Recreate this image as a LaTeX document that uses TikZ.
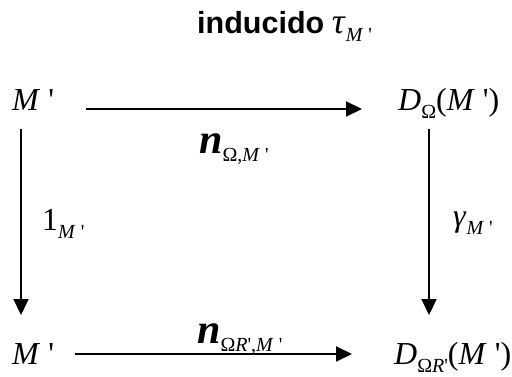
\documentclass[tikz,border=0pt]{standalone}
\usepackage{fontspec}
\setmainfont{Liberation Serif}
\setsansfont{Liberation Sans}
\usetikzlibrary{arrows.meta}
\newcommand{\Mq}{\textit{M}\hspace{0.25em}\textquotesingle}
\newcommand{\sbs}[1]{\raisebox{-0.28em}{\fontsize{20}{22}\selectfont #1}}
\newcommand{\scn}{{\fontsize{42}{44}\selectfont\bfseries\itshape n}}
\begin{document}
\begin{tikzpicture}[x=1pt,y=1pt,
  obj/.style={inner sep=0pt,anchor=base west,font=\fontsize{32}{36}\selectfont},
  lab/.style={inner sep=0pt,anchor=base west,font=\fontsize{32}{36}\selectfont},
  ttl/.style={inner sep=0pt,anchor=base west,font=\fontsize{30.5}{34}\selectfont},
  arr/.style={line width=2pt,-{Triangle[length=16pt,width=15pt]}}]
\useasboundingbox (0,0) rectangle (512,376);
\node[ttl] (title) at (197,343) {\textbf{\sffamily inducido} {\fontsize{36}{36}\selectfont\textit{τ}}\sbs{\Mq}};
\node[obj] (tl) at (12,266) {\Mq};
\node[obj] (tr) at (398,266) {\textit{D}\sbs{Ω}(\Mq)};
\node[obj] (bl) at (12,12) {\Mq};
\node[obj] (br) at (394,12) {\textit{D}\sbs{Ω\textit{R}\textquotesingle}(\Mq)};
\node[lab] (n1) at (199,223) {\scn\sbs{Ω,\Mq}};
\node[lab] (n2) at (197,33) {\scn\sbs{Ω\textit{R}\textquotesingle,\Mq}};
\node[lab] (l1) at (42,146) {1\sbs{\Mq}};
\node[lab] (g) at (453,150) {\textit{γ}\sbs{\Mq}};
\draw[arr] ([shift={(74pt,1pt)}]tl.base west) -- ([shift={(-36pt,1pt)}]tr.base west);
\draw[arr] ([shift={(63pt,10pt)}]bl.base west) -- ([shift={(-42pt,10pt)}]br.base west);
\draw[arr] ([shift={(9pt,-19pt)}]tl.base west) -- ([shift={(9pt,49pt)}]bl.base west);
\draw[arr] ([shift={(31pt,-19pt)}]tr.base west) -- ([shift={(35pt,49pt)}]br.base west);
\end{tikzpicture}
\end{document}
